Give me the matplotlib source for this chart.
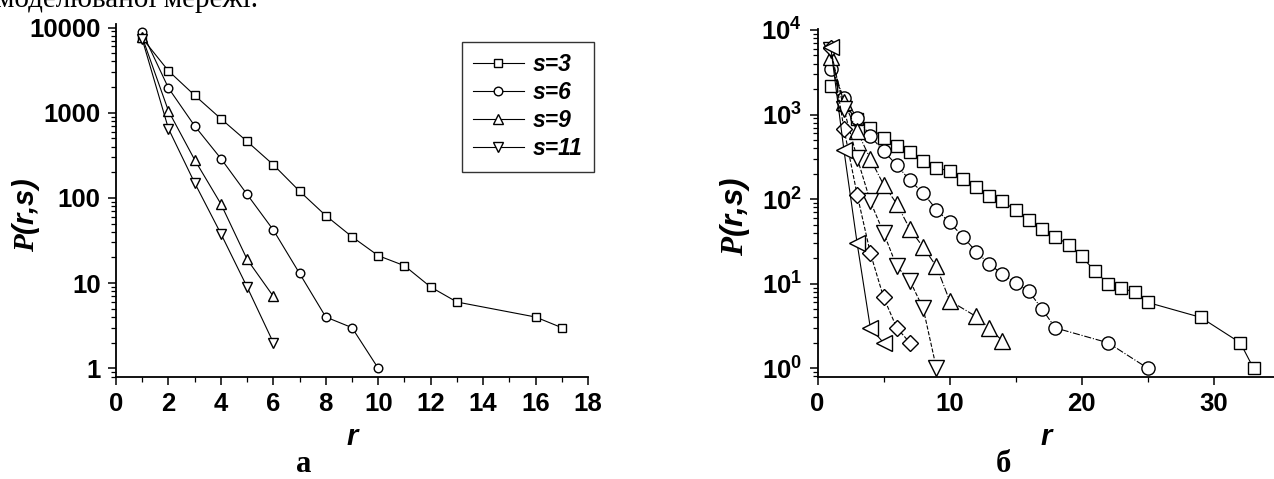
import matplotlib
matplotlib.use("Agg")
import matplotlib.pyplot as plt
from matplotlib.ticker import LogLocator, NullFormatter, MultipleLocator

# ---------------- data ----------------
# panel a
r_a_s3 = [1, 2, 3, 4, 5, 6, 7, 8, 9, 10, 11, 12, 13, 16, 17]
p_a_s3 = [7500, 3100, 1600, 850, 460, 245, 120, 62, 35, 21, 16, 9, 6, 4, 3]
r_a_s6 = [1, 2, 3, 4, 5, 6, 7, 8, 9, 10]
p_a_s6 = [8800, 1950, 700, 290, 110, 42, 13, 4, 3, 1]
r_a_s9 = [1, 2, 3, 4, 5, 6]
p_a_s9 = [7700, 1050, 280, 85, 19, 7]
r_a_s11 = [1, 2, 3, 4, 5, 6]
p_a_s11 = [7300, 650, 150, 38, 9, 2]
labels_a = ["s=3", "s=6", "s=9", "s=11"]

# panel b
r_b1 = list(range(1, 26)) + [29, 32, 33]
p_b1 = [2200, 1300, 880, 700, 530, 430, 360, 285, 235, 215,
        175, 140, 108, 94, 74, 56, 44, 36, 29, 21,
        14, 10, 8.9, 7.9, 6, 4, 2, 1]
r_b2 = list(range(1, 19)) + [22, 25]
p_b2 = [3500, 1580, 915, 555, 370, 252, 166, 118, 75, 53,
        36, 24, 17, 13, 10.2, 8.1, 5, 3, 2, 1]
r_b3 = list(range(1, 11)) + [12, 13, 14]
p_b3 = [4800, 1400, 636, 299, 148, 88, 44, 27, 16, 6.3, 4.1, 3, 2.1]
r_b4 = [1, 2, 3, 4, 5, 6, 7, 8, 9]
p_b4 = [5800, 1150, 307, 94, 40, 16, 10.8, 5.1, 1]
r_b5 = [1, 2, 3, 4, 5, 6, 7]
p_b5 = [6200, 680, 113, 23, 6.9, 3, 2]
r_b6 = [1, 2, 3, 4, 5]
p_b6 = [6300, 380, 30, 3, 2]

yticks_a = [1, 10, 100, 1000, 10000]
yticklabels_a = ["1", "10", "100", "1000", "10000"]
yticks_b = [1, 10, 100, 1000, 10000]
yticklabels_b = [r"$\mathbf{10^{0}}$", r"$\mathbf{10^{1}}$", r"$\mathbf{10^{2}}$",
                 r"$\mathbf{10^{3}}$", r"$\mathbf{10^{4}}$"]

# ---------------- style ----------------
plt.rcParams["font.family"] = ["Liberation Sans", "DejaVu Sans"]
plt.rcParams["mathtext.fontset"] = "custom"
plt.rcParams["mathtext.rm"] = "Liberation Sans"
plt.rcParams["mathtext.bf"] = "Liberation Sans:bold"
plt.rcParams["mathtext.it"] = "Liberation Serif:italic:bold"

W, H = 1274, 479
fig = plt.figure(figsize=(W / 100, H / 100), dpi=100)


def ax_rect(x0, x1, y0, y1):
    return [x0 / W, 1 - y1 / H, (x1 - x0) / W, (y1 - y0) / H]


TICK_FS = 18.5
LAB_FS = 21


def style_axes(ax):
    for s in ("top", "right"):
        ax.spines[s].set_visible(False)
    for s in ("left", "bottom"):
        ax.spines[s].set_linewidth(1.3)
    ax.tick_params(which="major", direction="out", length=6, width=1.1,
                   labelsize=TICK_FS, pad=5)
    ax.tick_params(which="minor", direction="out", length=3.5, width=0.9)
    for lab in ax.get_xticklabels() + ax.get_yticklabels():
        lab.set_fontweight("bold")


lw = 0.8
mew = 1.0

# ---------------- panel a ----------------
ax_a_x0, ax_a_x1, ax_a_y0, ax_a_y1 = 116, 588, 24, 376.7
axa = fig.add_axes(ax_rect(ax_a_x0, ax_a_x1, ax_a_y0, ax_a_y1))
axa.set_yscale("log")
axa.plot(r_a_s3, p_a_s3, "-", color="black", lw=lw, marker="s", ms=5.5,
         mfc="white", mec="black", mew=mew, label=labels_a[0])
axa.plot(r_a_s6, p_a_s6, "-", color="black", lw=lw, marker="o", ms=6.2,
         mfc="white", mec="black", mew=mew, label=labels_a[1])
axa.plot(r_a_s9, p_a_s9, "-", color="black", lw=lw, marker="^", ms=7.2,
         mfc="white", mec="black", mew=mew, label=labels_a[2])
axa.plot(r_a_s11, p_a_s11, "-", color="black", lw=lw, marker="v", ms=7.2,
         mfc="white", mec="black", mew=mew, label=labels_a[3])
axa.set_xlim(0, 18)
axa.set_ylim(0.797, 11000)
axa.xaxis.set_major_locator(MultipleLocator(2))
axa.xaxis.set_minor_locator(MultipleLocator(1))
axa.set_yticks(yticks_a)
axa.set_yticklabels(yticklabels_a)
axa.yaxis.set_minor_locator(LogLocator(base=10, subs=range(2, 10)))
axa.yaxis.set_minor_formatter(NullFormatter())
style_axes(axa)
axa.set_xlabel("r", fontsize=LAB_FS, fontweight="bold", style="italic", labelpad=5)
axa.set_ylabel(r"$\mathit{P}$(r,s)", fontsize=LAB_FS, fontweight="bold",
               style="italic")
axa.yaxis.set_label_coords((42 - ax_a_x0) / (ax_a_x1 - ax_a_x0),
                           (ax_a_y1 - 215) / (ax_a_y1 - ax_a_y0))

leg = axa.legend(loc="upper right", bbox_to_anchor=(594 / W, 1 - 41.7 / H),
                 bbox_transform=fig.transFigure, borderaxespad=0,
                 frameon=True, fancybox=False, edgecolor="black",
                 handlelength=2.2, handletextpad=0.4, labelspacing=0.22,
                 borderpad=0.5,
                 prop={"family": "Liberation Sans", "weight": "bold",
                       "style": "italic", "size": 16.5})
leg.get_frame().set_linewidth(1.0)

# ---------------- panel b ----------------
ax_b_x0, ax_b_x1, ax_b_y0, ax_b_y1 = 817.5, 1274, 28.5, 376.7
axb = fig.add_axes(ax_rect(ax_b_x0, ax_b_x1, ax_b_y0, ax_b_y1))
axb.set_yscale("log")
axb.plot(r_b1, p_b1, "-", color="black", lw=lw, marker="s", ms=9,
         mfc="white", mec="black", mew=mew)
axb.plot(r_b2, p_b2, "-.", color="black", lw=lw, marker="o", ms=9.5,
         mfc="white", mec="black", mew=mew)
axb.plot(r_b3, p_b3, "-.", color="black", lw=lw, marker="^", ms=11,
         mfc="white", mec="black", mew=mew)
axb.plot(r_b4, p_b4, "--", color="black", lw=lw, marker="v", ms=11,
         mfc="white", mec="black", mew=mew)
axb.plot(r_b5, p_b5, "--", color="black", lw=lw, marker="D", ms=8,
         mfc="white", mec="black", mew=mew)
axb.plot(r_b6, p_b6, "-", color="black", lw=lw, marker="<", ms=11,
         mfc="white", mec="black", mew=mew)
axb.set_xlim(0, 34.55)
axb.set_ylim(0.795, 10400)
axb.xaxis.set_major_locator(MultipleLocator(10))
axb.xaxis.set_minor_locator(MultipleLocator(5))
axb.set_yticks(yticks_b)
axb.set_yticklabels(yticklabels_b)
axb.yaxis.set_minor_locator(LogLocator(base=10, subs=range(2, 10)))
axb.yaxis.set_minor_formatter(NullFormatter())
style_axes(axb)
axb.set_xlabel("r", fontsize=LAB_FS, fontweight="bold", style="italic", labelpad=5)
axb.set_ylabel(r"$\mathit{P}$(r,s)", fontsize=22.5, fontweight="bold",
               style="italic")
axb.yaxis.set_label_coords((752 - ax_b_x0) / (ax_b_x1 - ax_b_x0),
                           (ax_b_y1 - 216) / (ax_b_y1 - ax_b_y0))

# ---------------- captions ----------------
fig.text(304 / W, 1 - 464 / H, "а", fontsize=22, fontweight="bold",
         family="Liberation Serif", ha="center", va="center")
fig.text(1003 / W, 1 - 464 / H, "б", fontsize=22, fontweight="bold",
         family="Liberation Serif", ha="center", va="center")
fig.text(-4 / W, 1 - 7 / H, "моделюваної мережі.", fontsize=21,
         family="Liberation Serif", ha="left", va="baseline")

fig.savefig("out.png", dpi=100)
